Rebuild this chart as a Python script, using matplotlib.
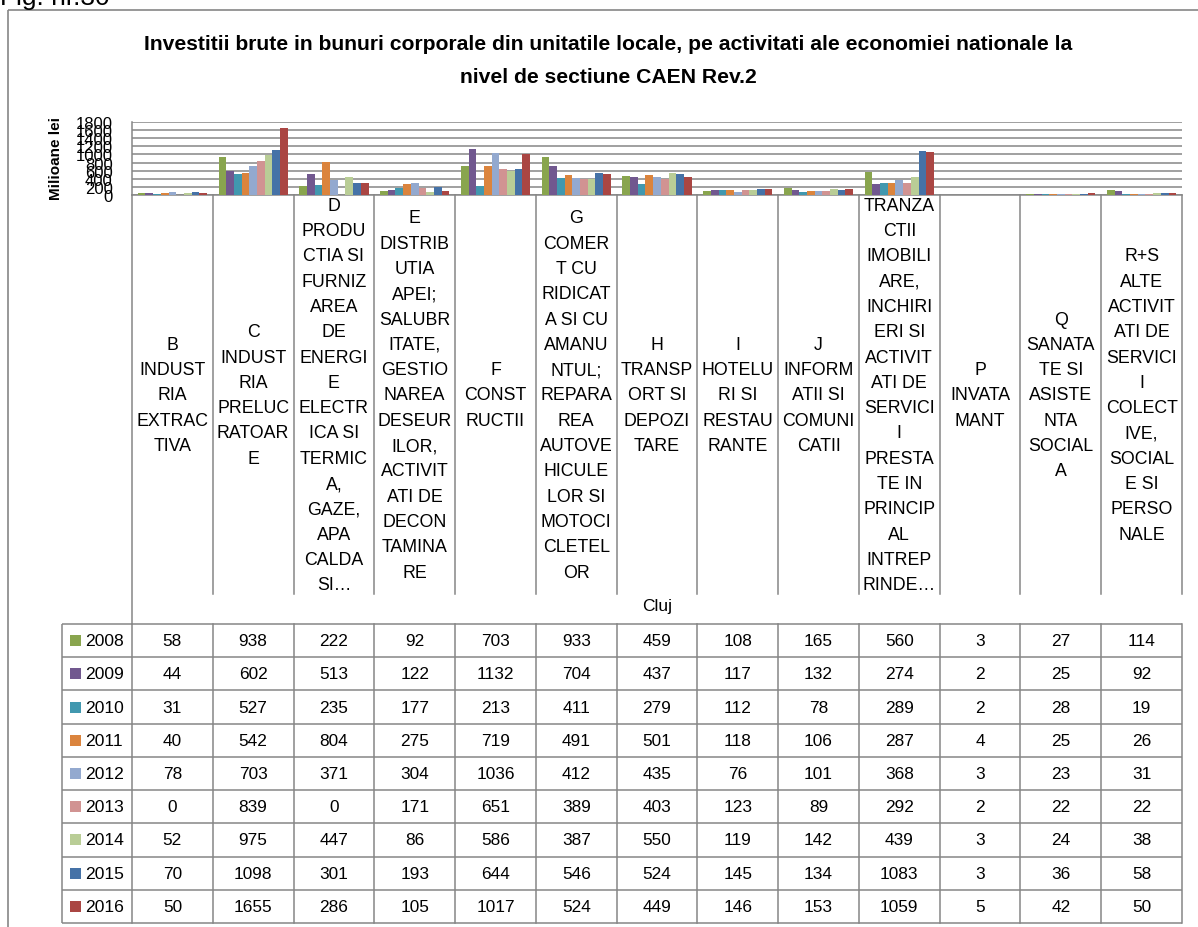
"""
Investitii brute in bunuri corporale - Cluj, grafic cu tabel de date (stil Excel).
"""

import numpy as np
import matplotlib
matplotlib.use('Agg')
from matplotlib import pyplot as plt
from matplotlib import lines, patches, transforms

W, H = 1198, 928

years = ['2008', '2009', '2010', '2011', '2012', '2013', '2014', '2015', '2016']

categories = [
    'B\nINDUST\nRIA\nEXTRAC\nTIVA',
    'C\nINDUST\nRIA\nPRELUC\nRATOAR\nE',
    'D\nPRODU\nCTIA SI\nFURNIZ\nAREA\nDE\nENERGI\nE\nELECTR\nICA SI\nTERMIC\nA,\nGAZE,\nAPA\nCALDA\nSI\u2026',
    'E\nDISTRIB\nUTIA\nAPEI;\nSALUBR\nITATE,\nGESTIO\nNAREA\nDESEUR\nILOR,\nACTIVIT\nATI DE\nDECON\nTAMINA\nRE',
    'F\nCONST\nRUCTII',
    'G\nCOMER\nT CU\nRIDICAT\nA SI CU\nAMANU\nNTUL;\nREPARA\nREA\nAUTOVE\nHICULE\nLOR SI\nMOTOCI\nCLETEL\nOR',
    'H\nTRANSP\nORT SI\nDEPOZI\nTARE',
    'I\nHOTELU\nRI SI\nRESTAU\nRANTE',
    'J\nINFORM\nATII SI\nCOMUNI\nCATII',
    'TRANZA\nCTII\nIMOBILI\nARE,\nINCHIRI\nERI SI\nACTIVIT\nATI DE\nSERVICI\nI\nPRESTA\nTE IN\nPRINCIP\nAL\nINTREP\nRINDE\u2026',
    'P\nINVATA\nMANT',
    'Q\nSANATA\nTE SI\nASISTE\nNTA\nSOCIAL\nA',
    'R+S\nALTE\nACTIVIT\nATI DE\nSERVICI\nI\nCOLECT\nIVE,\nSOCIAL\nE SI\nPERSO\nNALE',
]

v2008 = [58, 938, 222, 92, 703, 933, 459, 108, 165, 560, 3, 27, 114]
v2009 = [44, 602, 513, 122, 1132, 704, 437, 117, 132, 274, 2, 25, 92]
v2010 = [31, 527, 235, 177, 213, 411, 279, 112, 78, 289, 2, 28, 19]
v2011 = [40, 542, 804, 275, 719, 491, 501, 118, 106, 287, 4, 25, 26]
v2012 = [78, 703, 371, 304, 1036, 412, 435, 76, 101, 368, 3, 23, 31]
v2013 = [0, 839, 0, 171, 651, 389, 403, 123, 89, 292, 2, 22, 22]
v2014 = [52, 975, 447, 86, 586, 387, 550, 119, 142, 439, 3, 24, 38]
v2015 = [70, 1098, 301, 193, 644, 546, 524, 145, 134, 1083, 3, 36, 58]
v2016 = [50, 1655, 286, 105, 1017, 524, 449, 146, 153, 1059, 5, 42, 50]
series = [v2008, v2009, v2010, v2011, v2012, v2013, v2014, v2015, v2016]

colors = ['#89A54E', '#71588F', '#4198AF', '#DB843D', '#93A9CF',
          '#D19392', '#B9CD96', '#4572A7', '#AA4643']

GRAY = '#868686'


def fy(py):
    return 1 - py / H


def fig_line(fig, x0, y0, x1, y1, lw=1.1):
    fig.add_artist(lines.Line2D([x0 / W, x1 / W], [fy(y0), fy(y1)], transform=fig.transFigure,
                                color=GRAY, lw=lw, solid_capstyle='butt'))


def main():
    plt.rcParams['font.family'] = ['Liberation Sans', 'DejaVu Sans']
    fig = plt.figure(figsize=(W / 100, H / 100), dpi=100)

    ax = fig.add_axes([132 / W, fy(196), 1050 / W, 73 / H])
    n, k = len(categories), len(years)
    group = 9 / 10.5
    w = group / k
    x = np.arange(n)
    for j, vals in enumerate(series):
        ax.bar(x - group / 2 + w * (j + 0.5), vals, width=w, color=colors[j], lw=0, zorder=3)

    ax.set_xlim(-0.5, n - 0.5)
    ax.set_ylim(0, 1800)
    ax.set_yticks(np.arange(0, 1801, 200))
    ax.set_xticks([])
    ax.tick_params(axis='y', length=0, pad=14, labelsize=12)
    ax.grid(axis='y', color=GRAY, lw=1.1)
    ax.set_axisbelow(True)
    for s in ['top', 'right']:
        ax.spines[s].set_visible(False)
    for s in ['left', 'bottom']:
        ax.spines[s].set_color(GRAY)
        ax.spines[s].set_linewidth(1.1)

    fig.text(56 / W, fy(159), 'Milioane lei', rotation=90, ha='center', va='center',
             fontweight='bold', fontsize=11)

    # titlu
    fig.text(608 / W, fy(61),
             'Investitii brute in bunuri corporale din unitatile locale, pe activitati ale economiei nationale la\n'
             'nivel de sectiune CAEN Rev.2',
             ha='center', va='center', fontweight='bold', fontsize=15.2, linespacing=1.92)
    fig.text(0, fy(5), 'Fig. nr.30', ha='left', va='baseline', fontsize=19)

    # chenar exterior
    fig_line(fig, 8, 940, 8, 11, lw=1.2)
    fig_line(fig, 8, 11, 1210, 11, lw=1.2)

    trans = transforms.blended_transform_factory(ax.transData, fig.transFigure)

    # etichete categorii
    for i, lab in enumerate(categories):
        ax.text(i, fy(396), lab, transform=trans, ha='center', va='center', multialignment='center',
                fontsize=12.8, linespacing=1.64, clip_on=False)
    for b in np.arange(n + 1) - 0.5:
        bottom = 625 if b == -0.5 else 595
        fig.add_artist(lines.Line2D([b, b], [fy(196), fy(bottom)], transform=trans,
                                    color=GRAY, lw=1.1))
    ax.text((n - 1) / 2, fy(606), 'Cluj', transform=trans, ha='center', va='center',
            fontsize=12.5, clip_on=False)

    # tabel de date
    top, rh = 625, (924 - 625) / k
    for r in range(k + 1):
        fig_line(fig, 62, top + r * rh, 1182, top + r * rh)
    fig_line(fig, 62, top, 62, 924)
    for b in np.arange(n + 1) - 0.5:
        fig.add_artist(lines.Line2D([b, b], [fy(top), fy(924)], transform=trans, color=GRAY, lw=1.1))

    for r, (year, vals) in enumerate(zip(years, series)):
        yc = top + (r + 0.5) * rh
        fig.add_artist(patches.Rectangle((70 / W, fy(yc + 5.5)), 11 / W, 11 / H,
                                         transform=fig.transFigure, color=colors[r], lw=0))
        fig.text(85 / W, fy(yc), year, ha='left', va='center', fontsize=12.6)
        for i, v in enumerate(vals):
            ax.text(i, fy(yc), str(v), transform=trans, ha='center', va='center',
                    fontsize=12.4, clip_on=False)

    fig.savefig('out.png', dpi=100)


if __name__ == '__main__':
    main()
